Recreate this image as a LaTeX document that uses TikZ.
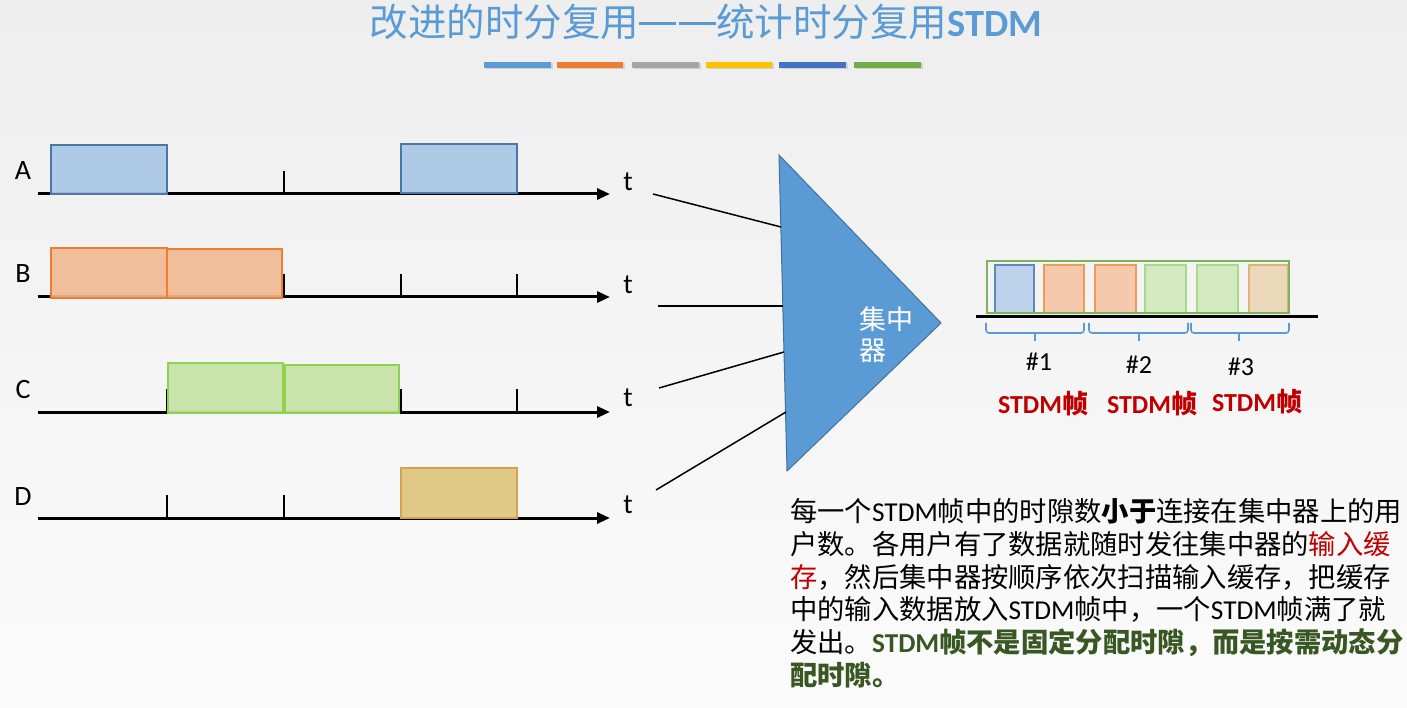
\documentclass[tikz,border=0pt]{standalone}
\usepackage{fontspec}
\setmainfont{Noto Sans CJK SC}
\newfontfamily\lat{Carlito}
\usetikzlibrary{arrows.meta,calc}
\definecolor{bgTop}{HTML}{EEEEEE}
\definecolor{bgBot}{HTML}{FBFBFB}
\definecolor{titleBlue}{HTML}{5B9BD5}
\definecolor{barA}{HTML}{5B9BD5}
\definecolor{barB}{HTML}{ED7D31}
\definecolor{barC}{HTML}{A5A5A5}
\definecolor{barD}{HTML}{FFC000}
\definecolor{barE}{HTML}{4472C4}
\definecolor{barF}{HTML}{70AD47}
\definecolor{aFill}{HTML}{A9C7E6}
\definecolor{aDraw}{HTML}{4A77A8}
\definecolor{bFill}{HTML}{F2B994}
\definecolor{bDraw}{HTML}{ED7D31}
\definecolor{cFill}{HTML}{C5E3A5}
\definecolor{cDraw}{HTML}{92D050}
\definecolor{dFill}{HTML}{DFC47E}
\definecolor{dDraw}{HTML}{D4A24E}
\definecolor{faFill}{HTML}{B9D1EB}
\definecolor{faDraw}{HTML}{5F8AB8}
\definecolor{fbFill}{HTML}{F5C6A7}
\definecolor{fbDraw}{HTML}{F09A5A}
\definecolor{fcFill}{HTML}{D1E9BB}
\definecolor{fcDraw}{HTML}{A8D98A}
\definecolor{fdFill}{HTML}{EBD6B6}
\definecolor{fdDraw}{HTML}{E0B277}
\definecolor{frameG}{HTML}{7CB35C}
\definecolor{concFill}{HTML}{5B9BD5}
\definecolor{concDraw}{HTML}{41719C}
\definecolor{redTxt}{HTML}{C00000}
\definecolor{greenTxt}{HTML}{385723}
\newcommand\tdash{\rule[0.3em]{0.96em}{0.1em}}
\begin{document}
\begin{tikzpicture}[x=1pt,y=-1pt,
  axis/.style={line width=3pt,-{Triangle[length=13pt,width=11pt]}},
  tickmark/.style={line width=1.5pt},
  slot/.style={line width=1.6pt, fill opacity=0.92},
  lbl/.style={font=\lat\fontsize{28}{30}\selectfont, anchor=base, inner sep=0pt},
  link/.style={line width=1.5pt},
  brace/.style={line width=1.6pt, draw=titleBlue, rounded corners=3pt},
  body/.style={anchor=base west, inner sep=0pt, font=\fontsize{27.3}{33}\selectfont},
  framelbl/.style={font=\lat\fontsize{26}{30}\selectfont, anchor=base, inner sep=0pt},
  stdm/.style={font=\lat\bfseries\fontsize{26}{30}\selectfont, text=redTxt, anchor=base, inner sep=0pt}
]
\fill[top color=bgTop,bottom color=bgBot] (0,0) rectangle (1407,708);
\useasboundingbox (0,0) rectangle (1407,708);

% title
\node[anchor=base, inner sep=0pt, text=titleBlue, font=\fontsize{38.5}{42}\selectfont] (title) at (706,37)
  {改进的时分复用\tdash\hspace{0.08em}\tdash 统计时分复用{\lat\bfseries STDM}};
\foreach \xa/\xb/\c in {484/551/barA,557/623/barB,632/699/barC,706/772/barD,779/846/barE,854/921/barF}{
  \fill[black!18] (\xa+1.5,63.5) rectangle (\xb+1.5,69.5);
  \fill[\c] (\xa,62) rectangle (\xb,68);
}

% axes and ticks
\foreach \y in {194,297,412,518}{
  \draw[axis] (38,\y) -- (610,\y);
  \foreach \x in {167,284,401,517} \draw[tickmark] (\x,\y-23) -- (\x,\y);
}

% time slots
\draw[slot, fill=aFill, draw=aDraw] (51,145) rectangle (167,194);
\draw[slot, fill=aFill, draw=aDraw] (401,144) rectangle (517,193);
\draw[slot, fill=bFill, draw=bDraw] (51,248) rectangle (167,298);
\draw[slot, fill=bFill, draw=bDraw] (167,249) rectangle (282,298);
\draw[slot, fill=cFill, draw=cDraw] (168,363) rectangle (283,413);
\draw[slot, fill=cFill, draw=cDraw] (285,365) rectangle (399,413);
\draw[slot, fill=dFill, draw=dDraw] (401,468) rectangle (517,518);

% row labels
\node[lbl] (la) at (23,180) {A};
\node[lbl] (lb) at (23,283) {B};
\node[lbl] (lc) at (23,398) {C};
\node[lbl] (ld) at (23,505) {D};
\node[lbl] (ta) at (628,191) {t};
\node[lbl] (tb) at (628,294) {t};
\node[lbl] (tc) at (628,406) {t};
\node[lbl] (td) at (628,513) {t};

% concentrator
\coordinate (T1) at (779,155);
\coordinate (T2) at (941,323);
\coordinate (T3) at (787,471);
\filldraw[fill=concFill, draw=concDraw, line width=1pt] (T1) -- (T2) -- (T3) -- cycle;
\node[anchor=base west, inner sep=0pt, text=white, font=\fontsize{27}{30}\selectfont] (c1) at (859,330) {集中};
\node[anchor=base west, inner sep=0pt, text=white, font=\fontsize{27}{30}\selectfont] (c2) at (859,360) {器};

% connectors
\coordinate (sa) at (653,194); \coordinate (ea) at (781,227);
\coordinate (sb) at (658,306); \coordinate (eb) at (783,306);
\coordinate (sc) at (659,388); \coordinate (ec) at (784,352);
\coordinate (sd) at (656,490); \coordinate (ed) at (786,412);
\draw[link] (sa) -- (ea);
\draw[link] (sb) -- (eb);
\draw[link] (sc) -- (ec);
\draw[link] (sd) -- (ed);

% STDM frames
\draw[slot, fill=faFill, draw=faDraw] (995,265) rectangle (1034,313);
\draw[slot, fill=fbFill, draw=fbDraw] (1044,265) rectangle (1084,313);
\draw[slot, fill=fbFill, draw=fbDraw] (1095,265) rectangle (1136,313);
\draw[slot, fill=fcFill, draw=fcDraw] (1145,265) rectangle (1186,313);
\draw[slot, fill=fcFill, draw=fcDraw] (1197,265) rectangle (1238,313);
\draw[slot, fill=fdFill, draw=fdDraw] (1249,265) rectangle (1288,313);
\draw[line width=1.6pt, draw=frameG] (987,261) rectangle (1289,313);
\draw[line width=3pt] (976,317) -- (1318,317);

\foreach \xa/\xm/\xb in {986/1035/1084,1089/1139/1188,1191/1239/1289}{
  \draw[brace] (\xa,323) -- (\xa,333) -- (\xm,333);
  \draw[brace] (\xb,323) -- (\xb,333) -- (\xm,333);
  \draw[line width=1.6pt, draw=titleBlue] (\xm,333) -- (\xm,341);
}
\node[framelbl] (n1) at (1039,370) {\#1};
\node[framelbl] (n2) at (1139,373) {\#2};
\node[framelbl] (n3) at (1241,375) {\#3};
\node[stdm] (s1) at (1043,413) {STDM{\fontspec{Noto Sans CJK SC}帧}};
\node[stdm] (s2) at (1152,413) {STDM{\fontspec{Noto Sans CJK SC}帧}};
\node[stdm] (s3) at (1257,411) {STDM{\fontspec{Noto Sans CJK SC}帧}};

% explanation
\node[body] (p1) at (790,521) {每一个{\lat STDM}帧中的时隙数\textbf{小于}连接在集中器上的用};
\node[body] (p2) at (790,554) {户数。各用户有了数据就随时发往集中器的\textcolor{redTxt}{输入缓}};
\node[body] (p3) at (790,587) {\textcolor{redTxt}{存}，然后集中器按顺序依次扫描输入缓存，把缓存};
\node[body] (p4) at (790,619) {中的输入数据放入{\lat STDM}帧中，一个{\lat STDM}帧满了就};
\node[body] (p5) at (790,652) {发出。\textcolor{greenTxt}{\bfseries{\lat STDM}帧不是固定分配时隙，而是按需动态分}};
\node[body] (p6) at (790,685) {\textcolor{greenTxt}{\bfseries 配时隙。}};
\end{tikzpicture}
\end{document}
